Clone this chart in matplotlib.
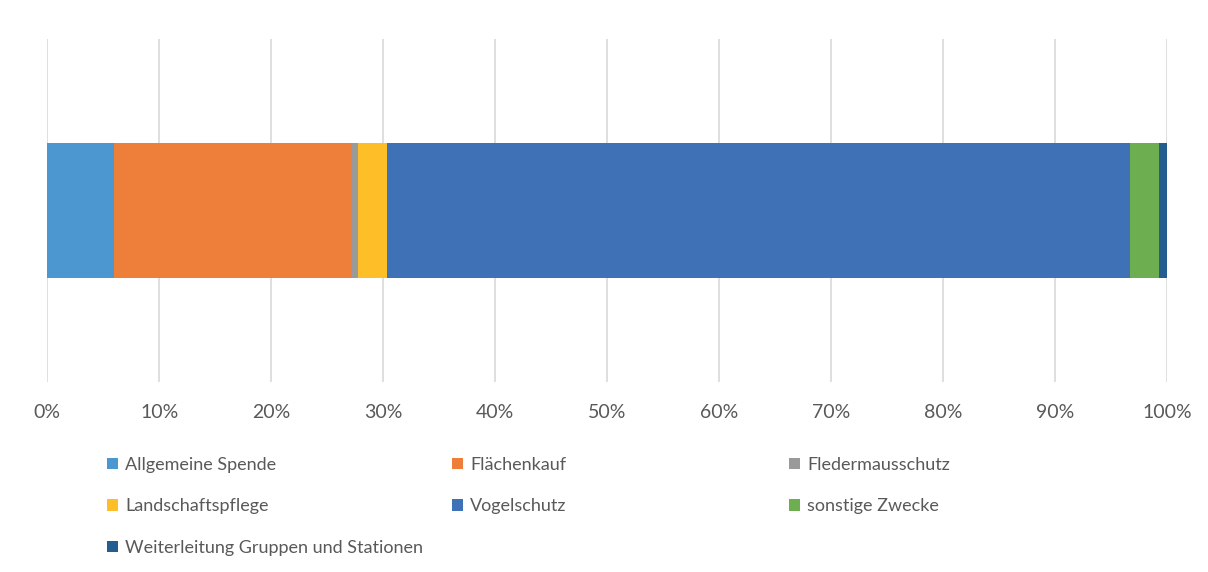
import matplotlib
matplotlib.use("Agg")
import matplotlib.pyplot as plt
from matplotlib.ticker import FuncFormatter

plt.rcParams['font.family'] = ['Lato', 'DejaVu Sans']

categories = ["Allgemeine Spende", "Flächenkauf", "Fledermausschutz",
              "Landschaftspflege", "Vogelschutz", "sonstige Zwecke",
              "Weiterleitung Gruppen und Stationen"]
shares = [5.96, 21.28, 0.51, 2.59, 66.38, 2.59, 0.69]
colors = ['#4C97D0', '#EE7F3B', '#9A9A9A', '#FDBE28', '#3F71B7', '#6DAE50', '#245E91']
xticks = [0, 10, 20, 30, 40, 50, 60, 70, 80, 90, 100]

fig = plt.figure(figsize=(12.08, 5.72), dpi=100)
W, H = 1208, 572
ax = fig.add_axes([47.3 / W, 1 - 382 / H, (1167 - 47.3) / W, (382 - 39) / H])

handles = []
left = 0
for cat, val, col in zip(categories, shares, colors):
    b = ax.barh(0, val, left=left, height=0.394, color=col, label=cat, zorder=3)
    handles.append(b)
    left += val

ax.set_xlim(0, 100)
ax.set_ylim(-0.5, 0.5)
ax.set_xticks(xticks)
ax.xaxis.set_major_formatter(FuncFormatter(lambda v, p: f"{int(v)}%"))
ax.set_yticks([])
ax.grid(axis='x', color='#D9D9D9', linewidth=1.2, zorder=0)
for s in ax.spines.values():
    s.set_visible(False)
ax.tick_params(axis='x', length=0, labelsize=14, labelcolor='#595959', pad=16)

# legend laid out row-wise in three columns like the original
cols = [[0, 3, 6], [1, 4], [2, 5]]
xpos = [107, 452, 789]
for cidx, xp in zip(cols, xpos):
    fig.legend([handles[i] for i in cidx], [categories[i] for i in cidx],
               loc='upper left', bbox_to_anchor=(xp / W, 1 - 457 / H),
               frameon=False, fontsize=13, labelcolor='#595959',
               handlelength=0.6, handleheight=0.6, handletextpad=0.4,
               labelspacing=1.41, borderaxespad=0, borderpad=0)

fig.savefig("out.png", dpi=100)
